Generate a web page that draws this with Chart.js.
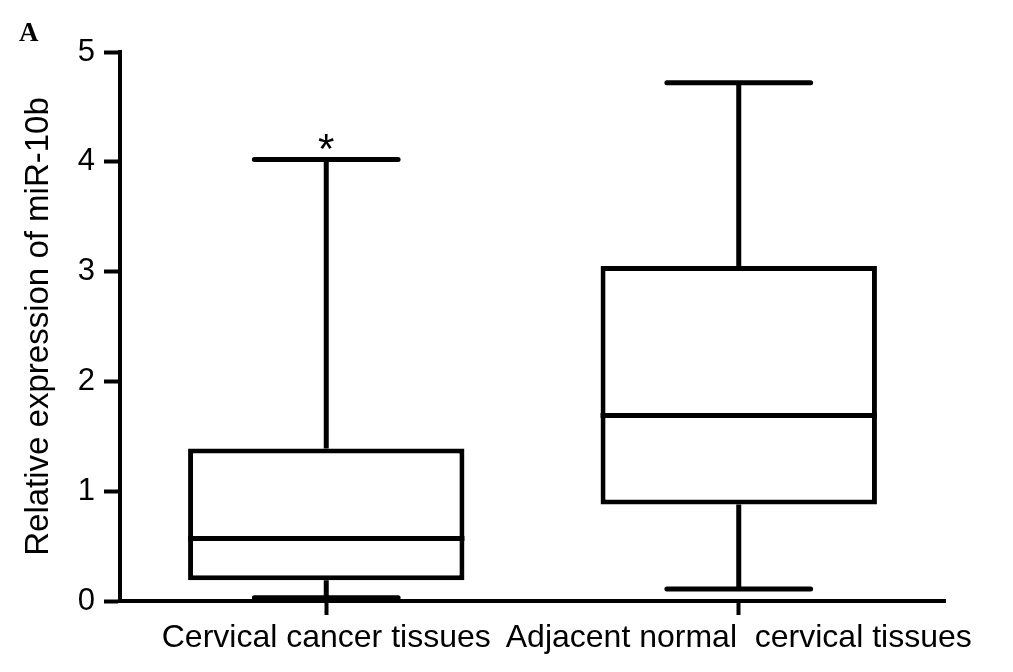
<!DOCTYPE html>
<html>
<head>
<meta charset="utf-8">
<script src="https://cdn.jsdelivr.net/npm/chart.js@4"></script>
<style>
    body { margin: 0; background: #fff; }
    #wrap { width: 1013px; height: 672px; }
</style>
</head>
<body>
<div id="wrap"><canvas id="boxChart" width="1013" height="672"></canvas></div>
<script>
const categories = ['Cervical cancer tissues', 'Adjacent normal  cervical tissues'];
const mins = [0.03, 0.11];
const q1s = [0.19, 0.88];
const medians = [0.57, 1.69];
const q3s = [1.39, 3.05];
const maxs = [4.02, 4.72];
const yTicks = [0, 1, 2, 3, 4, 5];
const marks = ['*', ''];

// whiskers, caps and median lines drawn on top of the floating bars
const boxExtras = {
    id: 'boxExtras',
    afterDatasetsDraw(chart) {
        const ctx = chart.ctx;
        const y = chart.scales.y;
        const meta = chart.getDatasetMeta(0);
        ctx.save();
        ctx.strokeStyle = '#000';
        ctx.lineWidth = 5;
        ctx.lineCap = 'butt';
        meta.data.forEach((bar, i) => {
            const cx = bar.x;
            const half = bar.width / 2;
            const capHalf = half * 0.52;
            const yMin = y.getPixelForValue(mins[i]);
            const yQ1 = y.getPixelForValue(q1s[i]);
            const yMed = y.getPixelForValue(medians[i]);
            const yQ3 = y.getPixelForValue(q3s[i]);
            const yMax = y.getPixelForValue(maxs[i]);

            ctx.beginPath();
            ctx.moveTo(cx, yQ3);
            ctx.lineTo(cx, yMax);
            ctx.moveTo(cx, yQ1);
            ctx.lineTo(cx, yMin);
            ctx.moveTo(cx - half, yMed);
            ctx.lineTo(cx + half, yMed);
            ctx.stroke();

            ctx.lineCap = 'round';
            ctx.beginPath();
            ctx.moveTo(cx - capHalf, yMax);
            ctx.lineTo(cx + capHalf, yMax);
            ctx.moveTo(cx - capHalf, yMin);
            ctx.lineTo(cx + capHalf, yMin);
            ctx.stroke();
            ctx.lineCap = 'butt';

            if (marks[i]) {
                ctx.fillStyle = '#000';
                ctx.font = '42px "Liberation Sans", Arial, sans-serif';
                ctx.textAlign = 'center';
                ctx.textBaseline = 'alphabetic';
                ctx.fillText(marks[i], cx, yMax + 3);
            }
        });

        ctx.fillStyle = '#000';
        ctx.font = 'bold 27px "Liberation Serif", "Times New Roman", serif';
        ctx.textAlign = 'left';
        ctx.textBaseline = 'alphabetic';
        ctx.fillText('A', 19, 41);
        ctx.restore();
    }
};

new Chart(document.getElementById('boxChart'), {
    type: 'bar',
    data: {
        labels: categories,
        datasets: [{
            data: categories.map((c, i) => [q1s[i], q3s[i]]),
            backgroundColor: '#ffffff',
            borderColor: '#000000',
            borderWidth: 5,
            borderSkipped: false,
            categoryPercentage: 1,
            barPercentage: 0.67
        }]
    },
    options: {
        responsive: false,
        animation: false,
        layout: {
            padding: { top: 52, right: 68, left: 0, bottom: 0 }
        },
        plugins: {
            legend: { display: false },
            tooltip: { enabled: false }
        },
        scales: {
            x: {
                offset: true,
                grid: {
                    offset: false,
                    drawOnChartArea: false,
                    drawTicks: true,
                    tickLength: 14,
                    tickWidth: 4,
                    tickColor: '#000'
                },
                border: { display: true, color: '#000', width: 4 },
                ticks: {
                    color: '#000',
                    padding: 4,
                    maxRotation: 0,
                    autoSkip: false,
                    font: { size: 32, family: '"Liberation Sans", Arial, sans-serif' }
                },
                afterFit(scale) {
                    scale.height = 71;
                }
            },
            y: {
                min: 0,
                max: 5,
                afterBuildTicks(scale) {
                    scale.ticks = yTicks.map((v) => ({ value: v }));
                },
                grid: {
                    drawOnChartArea: false,
                    drawTicks: true,
                    tickLength: 16,
                    tickWidth: 4,
                    tickColor: '#000'
                },
                border: { display: true, color: '#000', width: 4 },
                ticks: {
                    color: '#000',
                    padding: 9,
                    font: { size: 31, family: '"Liberation Sans", Arial, sans-serif' }
                },
                title: {
                    display: true,
                    text: 'Relative expression of miR-10b',
                    color: '#000',
                    padding: { top: 19, bottom: 0 },
                    font: { size: 33, family: '"Liberation Sans", Arial, sans-serif' }
                },
                afterFit(scale) {
                    scale.width = 120;
                }
            }
        }
    },
    plugins: [boxExtras]
});
</script>
</body>
</html>
